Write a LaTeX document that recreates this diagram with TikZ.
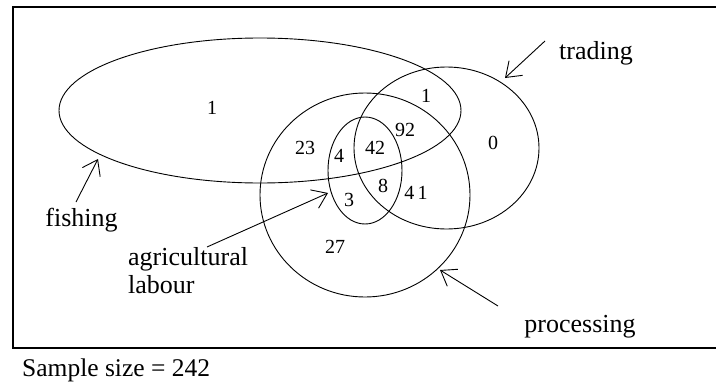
\documentclass[tikz,border=0pt]{standalone}
\usepackage{fontspec}
\setmainfont{Liberation Serif}
\usetikzlibrary{shapes.geometric,arrows.meta}
\begin{document}
\begin{tikzpicture}[x=1pt,y=-1pt,
  set/.style={draw, ellipse, line width=0.9pt, inner sep=0pt, outer sep=0pt},
  lbl/.style={font=\fontsize{26}{30}\selectfont, inner sep=0pt},
  num/.style={font=\fontsize{20}{24}\selectfont, inner sep=0pt},
  pointer/.style={line width=0.9pt, -{Straight Barb[length=14pt,width=20pt]}},
]
\useasboundingbox[fill=white] (0,0) rectangle (716,383);
% frame
\draw[line width=2.2pt] (722,7) -- (13,7) -- (13,348) -- (722,348);
% sets
\node[set, minimum width=402pt, minimum height=145pt] (fishing) at (260,110.5) {};
\node[set, minimum width=185pt, minimum height=162pt] (trading) at (446.5,148) {};
\node[set, minimum width=210pt, minimum height=204pt] (processing) at (365,195) {};
\node[set, minimum width=74pt, minimum height=107pt] (agri) at (365,170.5) {};
% counts
\node[num] (n1) at (212,108) {1};
\node[num] (n2) at (426,96) {1};
\node[num] (n3) at (305,148) {23};
\node[num] (n4) at (339,156) {4};
\node[num] (n5) at (375,148) {42};
\node[num] (n6) at (405,130) {92};
\node[num] (n7) at (493,143) {0};
\node[num] (n8) at (383,186) {8};
\node[num] (n9) at (416,193) {4\,1};
\node[num] (n10) at (349,200) {3};
\node[num] (n11) at (335,247) {27};
% labels
\node[lbl, anchor=base] (ltrading) at (596,59) {trading};
\node[lbl, anchor=base] (lprocessing) at (580,332) {processing};
\node[lbl, anchor=base] (lfishing) at (81.5,226) {fishing};
\node[lbl, anchor=base west] (lagri1) at (128,265) {agricultural};
\node[lbl, anchor=base west] (lagri2) at (128,293) {labour};
\node[font=\fontsize{25.5}{30}\selectfont, inner sep=0pt, anchor=base west] (sample) at (22,376) {Sample size = 242};
% arrows
\coordinate (ttail) at (545,41);  \coordinate (thead) at (505,78);
\coordinate (ftail) at (76,202);  \coordinate (fhead) at (98,159);
\coordinate (atail) at (207,247); \coordinate (ahead) at (328,193);
\coordinate (ptail) at (498,306); \coordinate (phead) at (440,270);
\draw[pointer] (ttail) -- (thead);
\draw[pointer] (ftail) -- (fhead);
\draw[pointer] (atail) -- (ahead);
\draw[pointer] (ptail) -- (phead);
\end{tikzpicture}
\end{document}
